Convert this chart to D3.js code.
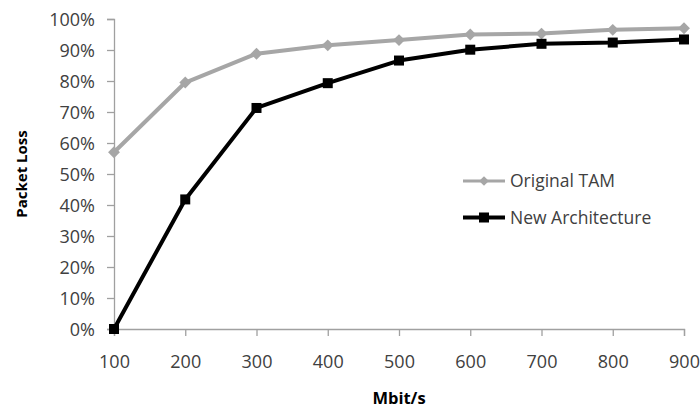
<!DOCTYPE html>
<html>
<head>
<meta charset="utf-8">
<script src="https://cdn.jsdelivr.net/npm/d3@7"></script>
<style>
  body { margin: 0; background: #fff; }
  svg { display: block; }
  text { font-family: 'Open Sans', sans-serif; }
</style>
</head>
<body>
<svg id="chart" width="700" height="414"></svg>
<script>
const rates = [100, 200, 300, 400, 500, 600, 700, 800, 900];
const originalTam = [0.57, 0.795, 0.888, 0.915, 0.932, 0.950, 0.953, 0.965, 0.970];
const newArch = [0.0, 0.418, 0.713, 0.793, 0.866, 0.901, 0.920, 0.924, 0.934];
const yTicks = [0, 0.1, 0.2, 0.3, 0.4, 0.5, 0.6, 0.7, 0.8, 0.9, 1.0];

const margin = {left: 114, right: 16, top: 19, bottom: 85};
const width = 700 - margin.left - margin.right;
const height = 414 - margin.top - margin.bottom;

const svg = d3.select('#chart');
const g = svg.append('g').attr('transform', `translate(${margin.left},${margin.top})`);

const sx = d3.scaleLinear().domain([100, 900]).range([0, width]);
const sy = d3.scaleLinear().domain([0, 1]).range([height, 0]);

const axisColor = '#a0a0a0';
const textColor = '#404040';

// y axis
const yAxis = d3.axisLeft(sy).tickValues(yTicks).tickSize(7).tickPadding(12)
  .tickFormat(d3.format('.0%'));
g.append('g').attr('class', 'y axis').call(yAxis);

// x axis
const xAxis = d3.axisBottom(sx).tickValues(rates).tickSize(7).tickPadding(19)
  .tickFormat(d3.format('d'));
g.append('g').attr('class', 'x axis')
  .attr('transform', `translate(0,${height})`)
  .call(xAxis);

g.selectAll('.axis path, .axis line').attr('stroke', axisColor).attr('stroke-width', 1.3);
g.selectAll('.axis text').attr('fill', textColor).style('font-size', '18px');
g.selectAll('.y.axis text').attr('dy', '0.36em');

// axis titles
svg.append('text')
  .attr('x', margin.left + width / 2).attr('y', 404)
  .attr('text-anchor', 'middle')
  .attr('fill', '#000').style('font-size', '16.5px').style('font-weight', 'bold')
  .text('Mbit/s');
svg.append('text')
  .attr('transform', `translate(27,${margin.top + height / 2}) rotate(-90)`)
  .attr('text-anchor', 'middle')
  .attr('fill', '#000').style('font-size', '15px').style('font-weight', 'bold')
  .text('Packet Loss');

const line = d3.line().x((d, i) => sx(rates[i])).y(d => sy(d));

// original TAM series
g.append('path').datum(originalTam)
  .attr('d', line).attr('fill', 'none')
  .attr('stroke', '#a6a6a6').attr('stroke-width', 4).attr('stroke-linejoin', 'round');
g.selectAll('.diamond').data(originalTam).enter().append('path')
  .attr('class', 'diamond')
  .attr('d', d3.symbol().type(d3.symbolDiamond2).size(90))
  .attr('transform', (d, i) => `translate(${sx(rates[i])},${sy(d)})`)
  .attr('fill', '#a6a6a6');

// new architecture series
g.append('path').datum(newArch)
  .attr('d', line).attr('fill', 'none')
  .attr('stroke', '#000').attr('stroke-width', 4).attr('stroke-linejoin', 'round');
g.selectAll('.square').data(newArch).enter().append('rect')
  .attr('class', 'square')
  .attr('x', (d, i) => sx(rates[i]) - 5).attr('y', d => sy(d) - 5)
  .attr('width', 10).attr('height', 10)
  .attr('fill', '#000');

// legend
const legend = svg.append('g').attr('transform', 'translate(463,181)');
const items = [
  {name: 'Original TAM', color: '#a6a6a6', marker: 'diamond'},
  {name: 'New Architecture', color: '#000', marker: 'square'}
];
items.forEach((it, i) => {
  const row = legend.append('g').attr('transform', `translate(0,${i * 36.5})`);
  row.append('line').attr('x1', 0).attr('x2', 42).attr('y1', 0).attr('y2', 0)
    .attr('stroke', it.color).attr('stroke-width', it.marker === 'square' ? 4 : 3);
  if (it.marker === 'diamond') {
    row.append('path').attr('d', d3.symbol().type(d3.symbolDiamond2).size(60))
      .attr('transform', 'translate(21,0)').attr('fill', it.color);
  } else {
    row.append('rect').attr('x', 16).attr('y', -5).attr('width', 10).attr('height', 10)
      .attr('fill', it.color);
  }
  row.append('text').attr('x', 47).attr('y', 0).attr('dy', '0.35em')
    .attr('fill', textColor).style('font-size', '17.5px').text(it.name);
});
</script>
</body>
</html>
